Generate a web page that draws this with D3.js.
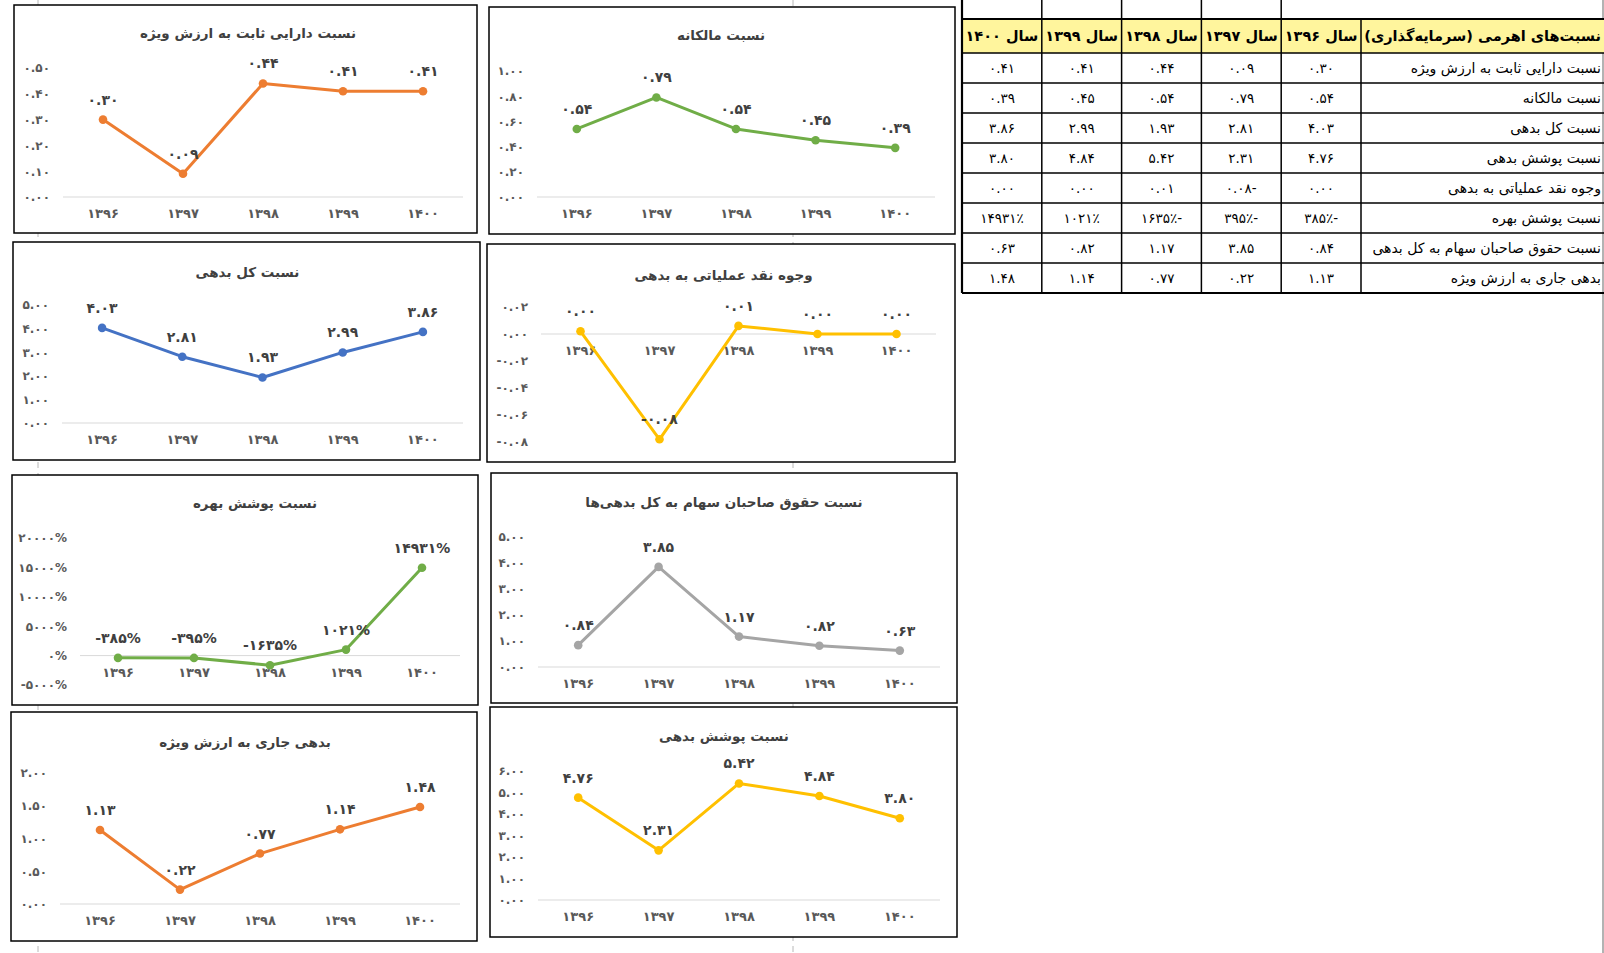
<!DOCTYPE html>
<html>
<head>
<meta charset="utf-8">
<script src="https://cdn.jsdelivr.net/npm/d3@7"></script>
<style>
  body { margin: 0; background: #fff; }
  text { font-family: "DejaVu Sans", sans-serif; }
</style>
</head>
<body>
<svg id="page" width="1604" height="953"></svg>
<script>
// data
var years = ["1396", "1397", "1398", "1399", "1400"];

var fixedAssetToEquity  = [0.30, 0.09, 0.44, 0.41, 0.41];
var proprietaryRatio    = [0.54, 0.79, 0.54, 0.45, 0.39];
var totalDebtRatio      = [4.03, 2.81, 1.93, 2.99, 3.86];
var cashFlowToDebt      = [0.002, -0.078, 0.006, 0.0, 0.0];
var interestCoverage    = [-385, -395, -1635, 1021, 14931];   // percent
var equityToDebt        = [0.84, 3.85, 1.17, 0.82, 0.63];
var currentDebtToEquity = [1.13, 0.22, 0.77, 1.14, 1.48];
var debtCoverage        = [4.76, 2.31, 5.42, 4.84, 3.80];

var rowLabels = [
    "نسبت دارایی ثابت به ارزش ویژه",
    "نسبت مالکانه",
    "نسبت کل بدهی",
    "نسبت پوشش بدهی",
    "وجوه نقد عملیاتی به بدهی",
    "نسبت پوشش بهره",
    "نسبت حقوق صاحبان سهام به کل بدهی",
    "بدهی جاری به ارزش ویژه"
];
var tableHeader = "نسبت‌های اهرمی (سرمایه‌گذاری)";
var yearPrefix = "سال ";

var svg = d3.select("#page");

// helpers
var faDigits = "۰۱۲۳۴۵۶۷۸۹";
function toFa(s) {
    return String(s).replace(/[0-9]/g, function(c) { return faDigits[+c]; }).replace(/\u2212/g, "-");
}
function rtl(s) { return "\u202B" + s + "\u202C"; }
function ltr(s) { return "\u202D" + s + "\u202C"; }

var fmt2 = d3.format(".2f");
function fmtNum(v) { return toFa(fmt2(v)); }
function fmtPct(v) { return toFa(d3.format("d")(Math.round(v))) + "%"; }

// table cell format: minus sign trails the number
function cellNum(v) {
    var s = toFa(fmt2(Math.abs(v)));
    if (fmt2(v).charAt(0) == "\u2212" || fmt2(v).charAt(0) == "-") s += "-";
    return s;
}
function cellPct(v) {
    var s = toFa(Math.round(Math.abs(v))) + "٪";
    if (v < 0) s += "-";
    return s;
}

// excel page-break marks behind the charts
[38, 793].forEach(function(px) {
    svg.append("line")
        .attr("x1", px).attr("x2", px)
        .attr("y1", 0).attr("y2", 953)
        .attr("stroke", "#b8b8b8")
        .attr("stroke-width", 1)
        .attr("stroke-dasharray", "6,5");
});
svg.append("line")
    .attr("x1", 1603).attr("x2", 1603)
    .attr("y1", 0).attr("y2", 953)
    .attr("stroke", "#9a9a9a").attr("stroke-width", 1.5);


/*
 *  Line charts
 */
var charts = [
    { title: rowLabels[0], values: fixedAssetToEquity, color: "#ED7D31",
      box: [14, 5, 463, 228], left: 63, right: 463, bottom: 197, top: 68, titleY: 33,
      domain: [0, 0.5], step: 0.1, fmt: fmtNum },
    { title: rowLabels[1], values: proprietaryRatio, color: "#70AD47",
      box: [489, 7, 466, 227], left: 537, right: 935, bottom: 197, top: 71, titleY: 35,
      domain: [0, 1], step: 0.2, fmt: fmtNum },
    { title: rowLabels[2], values: totalDebtRatio, color: "#4472C4",
      box: [13, 242, 467, 218], left: 62, right: 463, bottom: 423, top: 305, titleY: 272,
      domain: [0, 5], step: 1, fmt: fmtNum },
    { title: rowLabels[4], values: cashFlowToDebt, color: "#FFC000",
      box: [487, 244, 468, 218], left: 541, right: 936, bottom: 442, top: 307, titleY: 275,
      domain: [-0.08, 0.02], step: 0.02, fmt: fmtNum },
    { title: rowLabels[5], values: interestCoverage, color: "#70AD47",
      box: [12, 475, 466, 230], left: 80, right: 460, bottom: 685, top: 538, titleY: 503,
      domain: [-5000, 20000], step: 5000, fmt: fmtPct },
    { title: "نسبت حقوق صاحبان سهام به کل بدهی‌ها", values: equityToDebt, color: "#A5A5A5",
      box: [491, 473, 466, 230], left: 538, right: 940, bottom: 667, top: 537, titleY: 502,
      domain: [0, 5], step: 1, fmt: fmtNum },
    { title: rowLabels[7], values: currentDebtToEquity, color: "#ED7D31",
      box: [11, 712, 466, 229], left: 60, right: 460, bottom: 904, top: 773, titleY: 742,
      domain: [0, 2], step: 0.5, fmt: fmtNum },
    { title: rowLabels[3], values: debtCoverage, color: "#FFC000",
      box: [490, 707, 467, 230], left: 538, right: 940, bottom: 900, top: 771, titleY: 736,
      domain: [0, 6], step: 1, fmt: fmtNum }
];

charts.forEach(drawChart);

function drawChart(c) {
    var g = svg.append("g");

    g.append("rect")
        .attr("x", c.box[0]).attr("y", c.box[1])
        .attr("width", c.box[2]).attr("height", c.box[3])
        .attr("fill", "#fff")
        .attr("stroke", "#000")
        .attr("stroke-width", 1.5);

    var x = d3.scaleBand().domain(years).range([c.left, c.right]);
    var y = d3.scaleLinear().domain(c.domain).range([c.bottom, c.top]);

    // title
    g.append("text")
        .attr("x", (c.left + c.right) / 2 - 15)
        .attr("y", c.titleY)
        .attr("dy", "0.35em")
        .attr("text-anchor", "middle")
        .attr("font-size", "13.5px")
        .attr("font-weight", "bold")
        .attr("fill", "#404040")
        .text(rtl(c.title));

    // y axis
    var ticks = d3.range(c.domain[0], c.domain[1] + c.step / 2, c.step);
    var yAxis = d3.axisLeft(y)
        .tickValues(ticks)
        .tickSize(0)
        .tickPadding(13)
        .tickFormat(function(d) { return c.fmt(Math.abs(d) < 1e-9 ? 0 : d); });

    var yg = g.append("g")
        .attr("transform", "translate(" + c.left + ",0)")
        .call(yAxis);
    yg.select(".domain").remove();
    yg.selectAll("text")
        .attr("font-size", "12px")
        .attr("font-weight", "bold")
        .attr("fill", "#595959")
        .style("font-family", "DejaVu Sans");

    // zero gridline
    g.append("line")
        .attr("x1", c.left).attr("x2", c.right)
        .attr("y1", y(0)).attr("y2", y(0))
        .attr("stroke", "#D9D9D9")
        .attr("stroke-width", 1);

    // x axis at zero
    var xAxis = d3.axisBottom(x)
        .tickSize(0)
        .tickPadding(12)
        .tickFormat(toFa);

    var xg = g.append("g")
        .attr("transform", "translate(0," + y(0) + ")")
        .call(xAxis);
    xg.select(".domain").remove();
    xg.selectAll("text")
        .attr("font-size", "13px")
        .attr("font-weight", "bold")
        .attr("fill", "#595959")
        .style("font-family", "DejaVu Sans");

    // line + markers
    var pts = years.map(function(yr, i) { return { year: yr, v: c.values[i] }; });

    var line = d3.line()
        .x(function(d) { return x(d.year) + x.bandwidth() / 2; })
        .y(function(d) { return y(d.v); });

    g.append("path")
        .datum(pts)
        .attr("d", line)
        .attr("fill", "none")
        .attr("stroke", c.color)
        .attr("stroke-width", 3)
        .attr("stroke-linejoin", "round");

    g.selectAll(".marker")
        .data(pts)
        .enter()
        .append("circle")
        .attr("class", "marker")
        .attr("cx", function(d) { return x(d.year) + x.bandwidth() / 2; })
        .attr("cy", function(d) { return y(d.v); })
        .attr("r", 4.3)
        .attr("fill", c.color);

    // data labels
    g.selectAll(".dlabel")
        .data(pts)
        .enter()
        .append("text")
        .attr("class", "dlabel")
        .attr("x", function(d) { return x(d.year) + x.bandwidth() / 2; })
        .attr("y", function(d) { return y(d.v) - 15; })
        .attr("text-anchor", "middle")
        .attr("font-size", "14px")
        .attr("font-weight", "bold")
        .attr("fill", "#404040")
        .text(function(d) { return c.fmt(d.v); });
}


/*
 *  Table (top right)
 */
var tableRows = [
    fixedAssetToEquity.map(cellNum),
    proprietaryRatio.map(cellNum),
    totalDebtRatio.map(cellNum),
    debtCoverage.map(cellNum),
    cashFlowToDebt.map(cellNum),
    interestCoverage.map(cellPct),
    equityToDebt.map(cellNum),
    currentDebtToEquity.map(cellNum)
];

var tbl = {
    left: 962, labelLeft: 1361, right: 1604,
    headTop: 19, headH: 34, rowH: 30
};
var colX = d3.scaleBand().domain(years.slice().reverse()).range([tbl.left, tbl.labelLeft]);
var rowY = d3.scaleBand().domain(d3.range(rowLabels.length))
    .range([tbl.headTop + tbl.headH, tbl.headTop + tbl.headH + tbl.rowH * rowLabels.length]);
var tableBottom = tbl.headTop + tbl.headH + tbl.rowH * rowLabels.length;

var tg = svg.append("g");

// header fill
tg.append("rect")
    .attr("x", tbl.left).attr("y", tbl.headTop)
    .attr("width", tbl.right - tbl.left).attr("height", tbl.headH)
    .attr("fill", "#FFF59D");

// horizontal rules
var hLines = [tbl.headTop, tbl.headTop + tbl.headH].concat(rowLabels.map(function(d, i) { return rowY(i) + tbl.rowH; }));
tg.selectAll(".hrule")
    .data(hLines)
    .enter()
    .append("line")
    .attr("x1", tbl.left).attr("x2", tbl.right)
    .attr("y1", function(d) { return d; }).attr("y2", function(d) { return d; })
    .attr("stroke", "#000")
    .attr("stroke-width", function(d, i) { return (i == 0 || i == hLines.length - 1) ? 2.2 : 1.5; });

// vertical rules
var vLines = years.map(function(yr) { return colX(yr); }).concat([tbl.labelLeft]);
tg.selectAll(".vrule")
    .data(vLines)
    .enter()
    .append("line")
    .attr("x1", function(d) { return d; }).attr("x2", function(d) { return d; })
    .attr("y1", function(d) { return d == tbl.labelLeft ? tbl.headTop : 0; })
    .attr("y2", tableBottom)
    .attr("stroke", "#000")
    .attr("stroke-width", function(d) { return d == tbl.left ? 2.2 : 1.5; });

// header texts
years.forEach(function(yr) {
    tg.append("text")
        .attr("x", colX(yr) + colX.bandwidth() / 2)
        .attr("y", tbl.headTop + tbl.headH / 2)
        .attr("dy", "0.35em")
        .attr("text-anchor", "middle")
        .attr("font-size", "14.5px")
        .attr("font-weight", "bold")
        .attr("fill", "#000")
        .text(rtl(yearPrefix + toFa(yr)));
});

svg.append("clipPath").attr("id", "labelClip")
    .append("rect")
    .attr("x", tbl.labelLeft + 1).attr("y", 0)
    .attr("width", tbl.right - tbl.labelLeft).attr("height", tableBottom);

tg.append("text")
    .attr("clip-path", "url(#labelClip)")
    .attr("x", tbl.right - 3)
    .attr("y", tbl.headTop + tbl.headH / 2)
    .attr("dy", "0.35em")
    .attr("text-anchor", "end")
    .attr("font-size", "14.5px")
    .attr("font-weight", "bold")
    .attr("fill", "#000")
    .text(rtl(tableHeader));

// body
rowLabels.forEach(function(lbl, i) {
    tg.append("text")
        .attr("clip-path", "url(#labelClip)")
        .attr("x", tbl.right - 3)
        .attr("y", rowY(i) + tbl.rowH / 2)
        .attr("dy", "0.35em")
        .attr("text-anchor", "end")
        .attr("font-size", "14px")
        .attr("fill", "#000")
        .text(rtl(lbl));

    years.forEach(function(yr, j) {
        tg.append("text")
            .attr("x", colX(yr) + colX.bandwidth() / 2)
            .attr("y", rowY(i) + tbl.rowH / 2)
            .attr("dy", "0.35em")
            .attr("text-anchor", "middle")
            .attr("font-size", "13.5px")
            .attr("fill", "#000")
            .text(ltr(tableRows[i][j]));
    });
});
</script>
</body>
</html>
